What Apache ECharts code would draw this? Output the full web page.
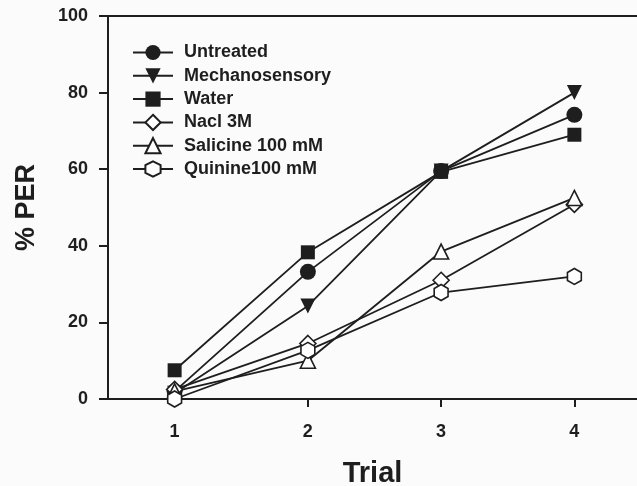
<!DOCTYPE html>
<html>
<head>
<meta charset="utf-8">
<script src="https://cdn.jsdelivr.net/npm/echarts@6/dist/echarts.min.js"></script>
<style>
html,body{margin:0;padding:0;background:#fbfbfc;}
#chart{width:637px;height:486px;}
</style>
</head>
<body>
<div id="chart"></div>
<script>
var trials = [1, 2, 3, 4];
var yTicks = [0, 20, 40, 60, 80, 100];
var seriesNames = ['Untreated', 'Mechanosensory', 'Water', 'Nacl 3M', 'Salicine 100 mM', 'Quinine100 mM'];
var untreated = [2, 33.2, 59.5, 74.2];
var mechanosensory = [1.5, 24.3, 59.5, 80];
var water = [7.5, 38.3, 59.3, 69];
var nacl = [2.5, 14.5, 31, 50.8];
var salicine = [2, 10, 38.5, 52.5];
var quinine = [0, 12.7, 27.8, 32];

var hexagon = 'path://M0,-1L0.866,-0.5L0.866,0.5L0,1L-0.866,0.5L-0.866,-0.5Z';
var font = 'Liberation Sans, Arial, sans-serif';
var ink = '#1e1e1e';

function pts(vals) { return trials.map(function (t, i) { return [t, vals[i]]; }); }

function mk(name, vals, symbol, filled, size, rotate) {
  return {
    name: name, type: 'line', data: pts(vals),
    symbol: symbol, symbolSize: size, symbolRotate: rotate || 0,
    symbolKeepAspect: true, showSymbol: true, clip: false,
    lineStyle: { color: ink, width: 1.8 },
    itemStyle: { color: filled ? ink : '#ffffff', borderColor: ink, borderWidth: filled ? 0 : 1.6, opacity: 1 },
    emphasis: { disabled: true },
    animation: false
  };
}

var chart = echarts.init(document.getElementById('chart'));
chart.setOption({
  backgroundColor: '#fbfbfc',
  animation: false,
  grid: { left: 108, top: 16, right: 0, bottom: 87, containLabel: false, outerBoundsMode: 'none' },
  legend: {
    orient: 'vertical', left: 132, top: 43, padding: 0,
    itemWidth: 40, itemHeight: 19, itemGap: 4.3,
    data: seriesNames,
    textStyle: { fontFamily: font, fontWeight: 'bold', fontSize: 18, color: ink, lineHeight: 19, padding: [0, 0, 0, 6] }
  },
  xAxis: [{
    type: 'value', min: 0.5, max: 4.47, position: 'bottom',
    name: 'Trial', nameLocation: 'middle', nameGap: 60,
    nameTextStyle: { fontFamily: font, fontWeight: 'bold', fontSize: 29, color: ink },
    axisLine: { show: true, lineStyle: { color: ink, width: 2 } },
    axisTick: { show: true, customValues: trials, length: 8, lineStyle: { color: ink, width: 2 } },
    axisLabel: { customValues: trials, margin: 24, fontFamily: font, fontWeight: 'bold', fontSize: 18, color: ink },
    splitLine: { show: false }
  }, {
    type: 'value', min: 0.5, max: 4.47, position: 'top',
    axisLine: { show: true, lineStyle: { color: ink, width: 2 } },
    axisTick: { show: false }, axisLabel: { show: false }, splitLine: { show: false }
  }],
  yAxis: {
    type: 'value', min: yTicks[0], max: yTicks[yTicks.length - 1], interval: 20,
    name: '% PER', nameLocation: 'middle', nameGap: 68,
    nameTextStyle: { fontFamily: font, fontWeight: 'bold', fontSize: 27, color: ink },
    axisLine: { show: true, lineStyle: { color: ink, width: 2 } },
    axisTick: { show: true, length: 9, lineStyle: { color: ink, width: 2 } },
    axisLabel: { margin: 20, fontFamily: font, fontWeight: 'bold', fontSize: 18, color: ink },
    splitLine: { show: false }
  },
  series: [
    mk(seriesNames[0], untreated, 'circle', true, 16),
    mk(seriesNames[1], mechanosensory, 'triangle', true, 15, 180),
    mk(seriesNames[2], water, 'rect', true, 14),
    mk(seriesNames[3], nacl, 'diamond', false, 16),
    mk(seriesNames[4], salicine, 'triangle', false, 15),
    mk(seriesNames[5], quinine, hexagon, false, 16)
  ]
});
</script>
</body>
</html>
